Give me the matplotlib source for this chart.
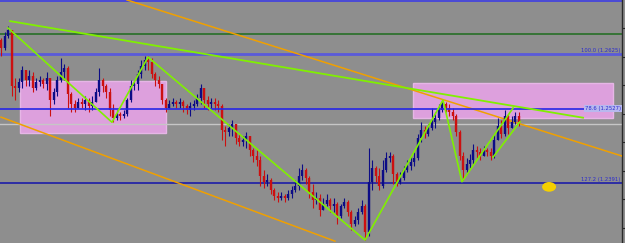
import numpy as np
import matplotlib
matplotlib.use("Agg")
import matplotlib.pyplot as plt
from matplotlib.patches import Rectangle, Ellipse
import matplotlib.transforms as mtransforms

# swiece (open = zamkniecie poprzedniej)
first_open = 1.2644
close = [1.2630, 1.2651, 1.2662, 1.2564, 1.2560, 1.2571, 1.2592, 1.2574, 1.2581, 1.2560,
         1.2571, 1.2574, 1.2567, 1.2578, 1.2539, 1.2553, 1.2574, 1.2588, 1.2595, 1.2550,
         1.2532, 1.2525, 1.2536, 1.2532, 1.2539, 1.2529, 1.2536, 1.2553, 1.2574, 1.2564,
         1.2553, 1.2522, 1.2508, 1.2515, 1.2511, 1.2515, 1.2539, 1.2564, 1.2567, 1.2585,
         1.2599, 1.2609, 1.2606, 1.2585, 1.2574, 1.2567, 1.2539, 1.2525, 1.2532, 1.2536,
         1.2532, 1.2536, 1.2529, 1.2522, 1.2529, 1.2532, 1.2543, 1.2560, 1.2539, 1.2532,
         1.2536, 1.2532, 1.2529, 1.2487, 1.2483, 1.2490, 1.2497, 1.2473, 1.2466, 1.2469,
         1.2476, 1.2452, 1.2441, 1.2434, 1.2406, 1.2396, 1.2399, 1.2382, 1.2371, 1.2368,
         1.2371, 1.2368, 1.2375, 1.2382, 1.2389, 1.2406, 1.2417, 1.2403, 1.2378, 1.2364,
         1.2368, 1.2347, 1.2357, 1.2364, 1.2354, 1.2357, 1.2336, 1.2354, 1.2361, 1.2343,
         1.2322, 1.2329, 1.2343, 1.2354, 1.2308, 1.2396, 1.2420, 1.2406, 1.2389, 1.2417,
         1.2438, 1.2441, 1.2410, 1.2396, 1.2403, 1.2417, 1.2424, 1.2431, 1.2438, 1.2473,
         1.2487, 1.2480, 1.2490, 1.2501, 1.2508, 1.2522, 1.2532, 1.2525, 1.2518, 1.2511,
         1.2483, 1.2441, 1.2417, 1.2427, 1.2434, 1.2452, 1.2448, 1.2441, 1.2452, 1.2448,
         1.2441, 1.2469, 1.2494, 1.2480, 1.2511, 1.2490, 1.2501, 1.2511, 1.2501]
high = [1.2648, 1.2658, 1.2669, 1.2662, 1.2578, 1.2578, 1.2599, 1.2588, 1.2592, 1.2588,
        1.2578, 1.2581, 1.2578, 1.2588, 1.2578, 1.2560, 1.2581, 1.2613, 1.2602, 1.2599,
        1.2553, 1.2539, 1.2543, 1.2543, 1.2546, 1.2543, 1.2546, 1.2560, 1.2595, 1.2578,
        1.2567, 1.2560, 1.2532, 1.2522, 1.2518, 1.2522, 1.2543, 1.2574, 1.2574, 1.2592,
        1.2609, 1.2616, 1.2616, 1.2613, 1.2588, 1.2581, 1.2567, 1.2543, 1.2539, 1.2543,
        1.2539, 1.2543, 1.2539, 1.2532, 1.2536, 1.2539, 1.2550, 1.2567, 1.2560, 1.2546,
        1.2543, 1.2543, 1.2539, 1.2532, 1.2494, 1.2497, 1.2504, 1.2497, 1.2480, 1.2476,
        1.2483, 1.2476, 1.2455, 1.2452, 1.2441, 1.2417, 1.2410, 1.2403, 1.2385, 1.2378,
        1.2378, 1.2375, 1.2382, 1.2389, 1.2399, 1.2420, 1.2427, 1.2420, 1.2406, 1.2392,
        1.2378, 1.2375, 1.2368, 1.2375, 1.2368, 1.2368, 1.2361, 1.2357, 1.2368, 1.2364,
        1.2347, 1.2336, 1.2350, 1.2364, 1.2357, 1.2455, 1.2434, 1.2424, 1.2420, 1.2434,
        1.2448, 1.2448, 1.2445, 1.2413, 1.2413, 1.2424, 1.2434, 1.2441, 1.2448, 1.2480,
        1.2501, 1.2494, 1.2497, 1.2525, 1.2518, 1.2532, 1.2539, 1.2536, 1.2532, 1.2525,
        1.2515, 1.2487, 1.2448, 1.2438, 1.2445, 1.2462, 1.2459, 1.2455, 1.2459, 1.2455,
        1.2455, 1.2480, 1.2508, 1.2504, 1.2522, 1.2515, 1.2511, 1.2518, 1.2518]
low = [1.2616, 1.2627, 1.2648, 1.2546, 1.2539, 1.2553, 1.2560, 1.2564, 1.2564, 1.2553,
       1.2557, 1.2564, 1.2560, 1.2557, 1.2511, 1.2532, 1.2546, 1.2571, 1.2574, 1.2525,
       1.2518, 1.2518, 1.2525, 1.2525, 1.2522, 1.2518, 1.2522, 1.2536, 1.2546, 1.2553,
       1.2543, 1.2511, 1.2501, 1.2504, 1.2504, 1.2508, 1.2511, 1.2536, 1.2557, 1.2557,
       1.2578, 1.2592, 1.2592, 1.2578, 1.2564, 1.2560, 1.2532, 1.2518, 1.2525, 1.2529,
       1.2525, 1.2525, 1.2518, 1.2515, 1.2511, 1.2522, 1.2529, 1.2532, 1.2525, 1.2522,
       1.2525, 1.2522, 1.2518, 1.2469, 1.2459, 1.2476, 1.2476, 1.2462, 1.2459, 1.2459,
       1.2455, 1.2441, 1.2431, 1.2424, 1.2389, 1.2385, 1.2389, 1.2375, 1.2364, 1.2361,
       1.2364, 1.2361, 1.2364, 1.2368, 1.2378, 1.2382, 1.2399, 1.2392, 1.2368, 1.2350,
       1.2357, 1.2336, 1.2347, 1.2354, 1.2343, 1.2343, 1.2322, 1.2333, 1.2350, 1.2336,
       1.2312, 1.2319, 1.2322, 1.2340, 1.2294, 1.2301, 1.2382, 1.2396, 1.2382, 1.2385,
       1.2413, 1.2431, 1.2392, 1.2389, 1.2392, 1.2399, 1.2413, 1.2417, 1.2424, 1.2434,
       1.2466, 1.2473, 1.2476, 1.2487, 1.2490, 1.2504, 1.2518, 1.2518, 1.2511, 1.2504,
       1.2476, 1.2434, 1.2399, 1.2410, 1.2420, 1.2427, 1.2438, 1.2434, 1.2441, 1.2441,
       1.2434, 1.2438, 1.2469, 1.2473, 1.2476, 1.2480, 1.2490, 1.2497, 1.2494]

# poziomy (cena)
top_line = 1.2712
green_line = 1.2655
fib_100 = 1.2619
fib_786 = 1.2524
price_line = 1.2497
fib_1272 = 1.2393
fib_labels = ["100.0 (1.2625)", "78.6 (1.2527)", "127.2 (1.2391)"]

# linie trendu: (swieca, cena)
orange_upper = [(36.0, 1.2714), (177.4, 1.2441)]
orange_lower = [(0.0, 1.2509), (95.4, 1.2292)]
green_trend = [(2.6, 1.2677), (166.3, 1.2508)]
zigzag_bars = [2.0, 31.7, 42.0, 104.0, 126.3, 131.7, 146.3]
zigzag_prices = [1.2665, 1.2500, 1.2614, 1.2294, 1.2539, 1.2396, 1.2525]
zigzag2 = [(140.6, 1.2439), (148.3, 1.2501)]

# strefy (swieca od, swieca do, cena dol, cena gora)
zones = [(5.4, 47.1, 1.2481, 1.2572), (117.8, 174.8, 1.2508, 1.2568)]
ellipse_spot = (156.6, 1.2387)

right_ticks = [1.2315, 1.2365, 1.2415, 1.2465, 1.2515, 1.2565, 1.2615, 1.2665]

BG = '#8e8e8e'
BULL = '#0c0c86'
BEAR = '#cc1010'

fig = plt.figure(figsize=(6.25, 2.43), dpi=100, facecolor=BG)
ax = fig.add_axes([0, 0, 622 / 625, 1])
ax.set_facecolor(BG)

n = len(close)
x = np.arange(n)
opens = [first_open] + close[:-1]

for z in zones:
    ax.add_patch(Rectangle((z[0], z[2]), z[1] - z[0], z[3] - z[2],
                           facecolor='#dda0dd', edgecolor='#e6b6e6', lw=1, zorder=1))

ax.axhline(top_line, color='#4a4ad6', lw=1.4, zorder=2)
ax.axhline(green_line, color='#276f27', lw=1.2, zorder=2)
ax.axhline(fib_100, color='#5a5ada', lw=2.0, zorder=2)
ax.axhline(price_line, color='#c6c6c6', lw=1.0, zorder=2)
ax.axhline(fib_1272, color='#1c1ca8', lw=1.2, zorder=2)

ax.plot(*zip(*orange_upper), color='#f0a000', lw=1.1, zorder=3)
ax.plot(*zip(*orange_lower), color='#f0a000', lw=1.1, zorder=3)

cols = [BULL if c >= o else BEAR for o, c in zip(opens, close)]
ax.vlines(x, low, high, colors=cols, lw=0.8, zorder=4)
ax.vlines(x, opens, close, colors=cols, lw=1.7, zorder=4)

ax.axhline(fib_786, color='#2626e6', lw=1.2, zorder=5)

ax.plot(*zip(*green_trend), color='#80f000', lw=1.3, zorder=6)
ax.plot(zigzag_bars, zigzag_prices, color='#80f000', lw=1.2, zorder=6)
ax.plot(*zip(*zigzag2), color='#80f000', lw=1.2, zorder=6)

ax.add_patch(Ellipse(ellipse_spot, 4.0, 0.0017, facecolor='#f5d000',
                     edgecolor='none', zorder=6))

trans = mtransforms.blended_transform_factory(ax.transAxes, ax.transData)
ax.text(0.998, fib_100 + 0.0002, fib_labels[0], transform=trans, ha='right',
        va='bottom', fontsize=3.8, color='#2a2ad0', zorder=7)
ax.text(0.998, fib_786, fib_labels[1], transform=trans, ha='right', va='center',
        fontsize=3.8, color='#2a2ad0', zorder=7,
        bbox=dict(boxstyle='square,pad=0.15', fc='#b8b8ee', ec='none'))
ax.text(0.998, fib_1272 + 0.0002, fib_labels[2], transform=trans, ha='right',
        va='bottom', fontsize=3.8, color='#2a2ad0', zorder=7)

ax.set_xlim(-0.29, 177.43)
ax.set_ylim(1.228875, 1.2714)
for s in ['top', 'bottom', 'left']:
    ax.spines[s].set_visible(False)
ax.spines['right'].set_color('#2a2a2a')
ax.spines['right'].set_linewidth(1.0)
ax.set_xticks([])
ax.yaxis.tick_right()
ax.set_yticks(right_ticks)
ax.tick_params(axis='y', direction='out', length=2.5, width=0.8,
               color='#2a2a2a', labelright=False)

fig.savefig("out.png", dpi=100, facecolor=BG)
